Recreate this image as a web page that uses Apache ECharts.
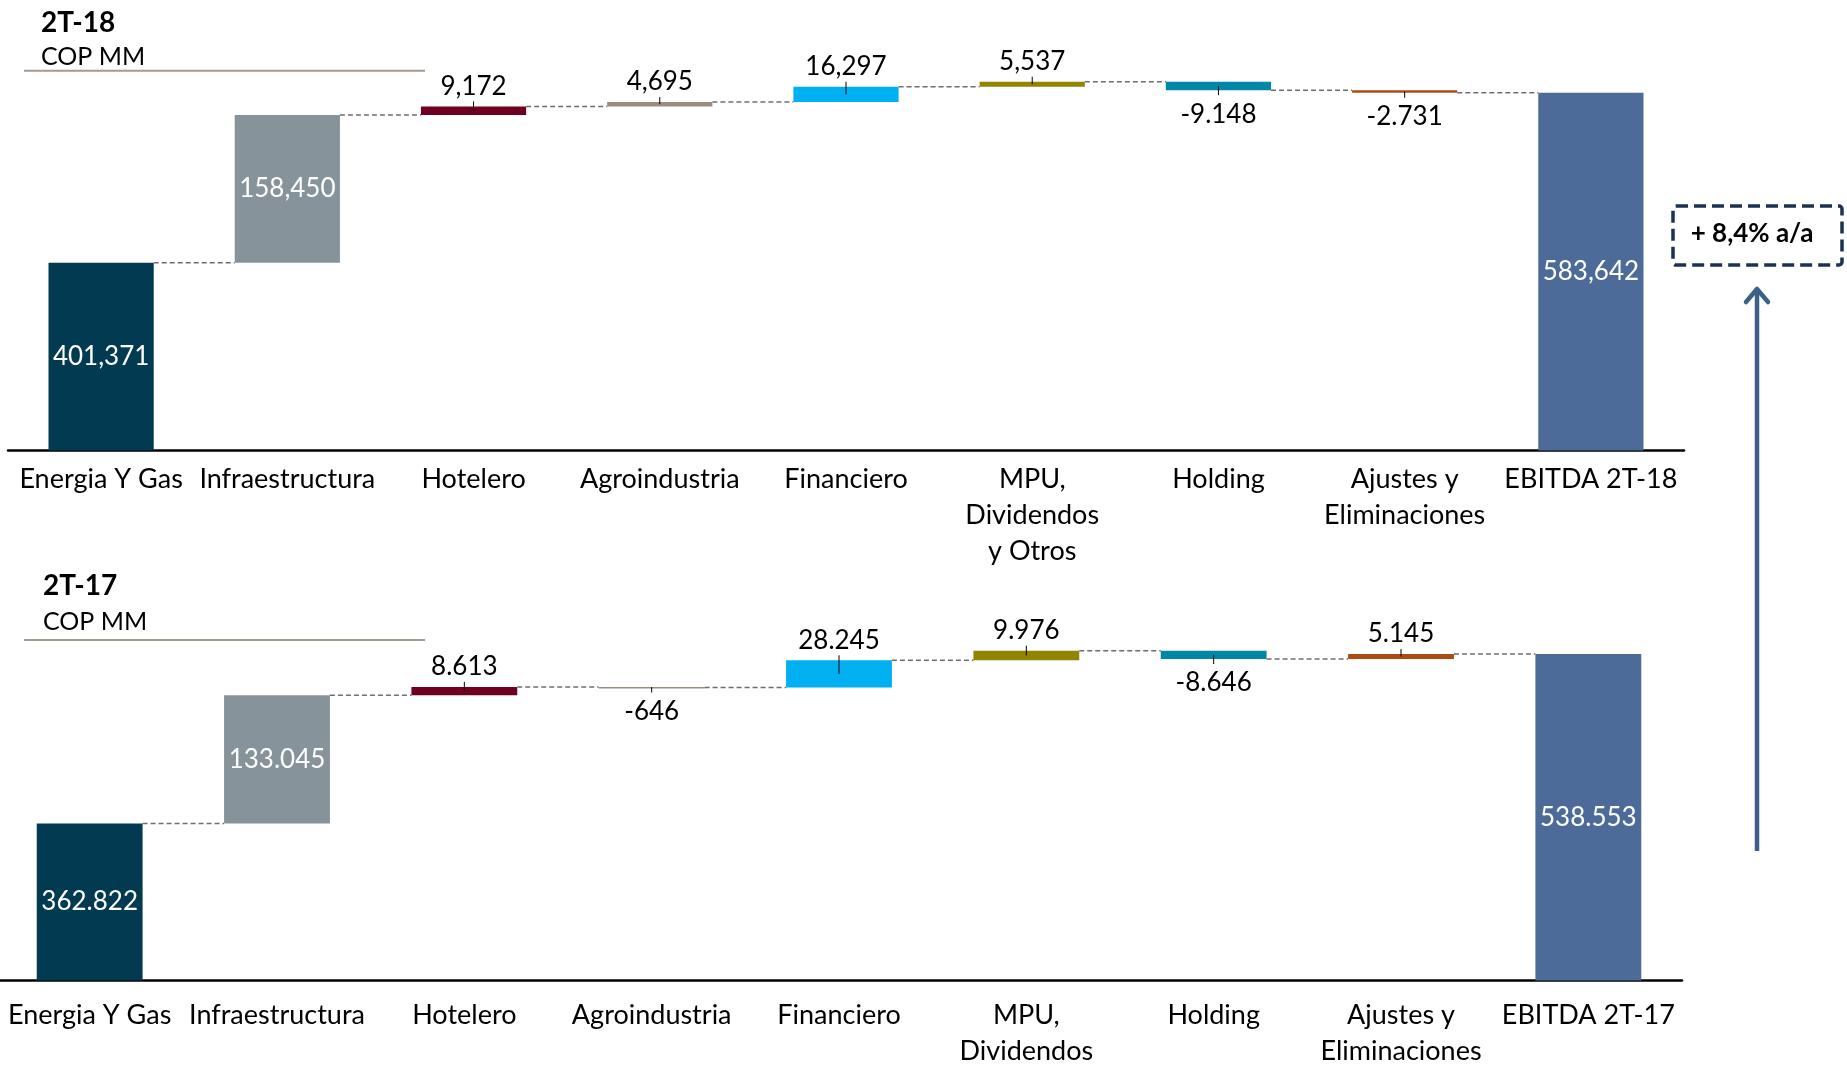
<!DOCTYPE html>
<html>
	<head>
		<meta charset="UTF-8">
		<title>EBITDA 2T-18 / 2T-17</title>
		<style>
			html, body {margin: 0; padding: 0; background: #fff;}
			#chart {width: 1847px; height: 1065px;}
		</style>
	</head>
	<body>
		<div id="chart"></div>

		<script type="text/javascript" src="https://cdn.jsdelivr.net/npm/echarts@6/dist/echarts.min.js"></script>
		<script type="text/javascript">
			var cats18 = ['Energia Y Gas', 'Infraestructura', 'Hotelero', 'Agroindustria', 'Financiero', 'MPU,\nDividendos\ny Otros', 'Holding', 'Ajustes y\nEliminaciones', 'EBITDA 2T-18'];
			var cats17 = ['Energia Y Gas', 'Infraestructura', 'Hotelero', 'Agroindustria', 'Financiero', 'MPU,\nDividendos\ny Otros', 'Holding', 'Ajustes y\nEliminaciones', 'EBITDA 2T-17'];

			var vals18 = [401371, 158450, 9172, 4695, 16297, 5537, -9148, -2731, 583642];
			var text18 = ['401,371', '158,450', '9,172', '4,695', '16,297', '5,537', '-9.148', '-2.731', '583,642'];

			var vals17 = [362822, 133045, 8613, -646, 28245, 9976, -8646, 5145, 538553];
			var text17 = ['362.822', '133.045', '8.613', '-646', '28.245', '9.976', '-8.646', '5.145', '538.553'];

			// which bars carry their value inside (white)
			var inside = [true, true, false, false, false, false, false, false, true];

			var barColors = ['#023a51', '#87939b', '#6f0020', '#9a8d7d', '#00b0f0', '#938400', '#0086a6', '#ae4a12', '#4c6b99'];

			var yMin = 200000, yMax = 600000;
			var FONT = 'Lato, "Open Sans", sans-serif';

			// first and last bars are totals, the rest float on the running sum
			function buildSteps(vals) {
				var out = [], run = 0, last = vals.length - 1;
				vals.forEach(function(v, i) {
					if (i === 0 || i === last) {
						out.push([i, yMin, v]);
						run = v;
					} else {
						out.push([i, run, run + v]);
						run += v;
					}
				});
				return out;
			}

			function waterfall(texts) {
				var n = texts.length;
				return function(params, api) {
					var i = api.value(0), s = api.value(1), e = api.value(2);
					var band = api.size([1, 0])[0], w = band * 0.565;
					var ps = api.coord([i, s]), pe = api.coord([i, e]);
					var cx = ps[0];
					var top = Math.min(ps[1], pe[1]), bot = Math.max(ps[1], pe[1]), mid = (top + bot) / 2;
					var kids = [{
						type: 'rect',
						shape: {x: cx - w / 2, y: top, width: w, height: Math.max(bot - top, 1.5)},
						style: {fill: barColors[i]}
					}];
					if (i < n - 1) {
						kids.push({
							type: 'line',
							shape: {x1: cx + w / 2, y1: pe[1], x2: cx + band - w / 2, y2: pe[1]},
							style: {stroke: '#6e6e6e', lineWidth: 1.5, lineDash: [5, 3]}
						});
					}
					var lbl = {type: 'text', style: {text: texts[i], x: cx, font: '26px ' + FONT, fill: '#000', align: 'center', verticalAlign: 'middle'}};
					if (inside[i]) {
						lbl.style.y = mid;
						lbl.style.fill = '#fff';
					} else if (e >= s) {
						kids.push({type: 'line', shape: {x1: cx, y1: top - 5, x2: cx, y2: mid}, style: {stroke: '#000', lineWidth: 1}});
						lbl.style.y = top - 20;
					} else {
						kids.push({type: 'line', shape: {x1: cx, y1: mid, x2: cx, y2: bot + 5}, style: {stroke: '#000', lineWidth: 1}});
						lbl.style.y = bot + 24;
					}
					kids.push(lbl);
					return {type: 'group', children: kids};
				};
			}

			function xAxisFor(cats, idx, margin) {
				return {
					type: 'category',
					gridIndex: idx,
					data: cats,
					axisTick: {show: false},
					axisLine: {lineStyle: {color: '#000', width: 2.5}},
					axisLabel: {interval: 0, margin: margin, color: '#000', fontFamily: FONT, fontSize: 27, lineHeight: 36}
				};
			}

			function yAxisFor(idx) {
				return {type: 'value', gridIndex: idx, min: yMin, max: yMax, show: false, splitLine: {show: false}};
			}

			var myChart = echarts.init(document.getElementById('chart'));

			var option = {
				backgroundColor: '#fff',
				animation: false,
				grid: [
					{left: 8, width: 1676, top: 77.5, height: 373, outerBoundsMode: 'none', containLabel: false},
					{left: -4, width: 1686, top: 594.8, height: 385.7, outerBoundsMode: 'none', containLabel: false}
				],
				xAxis: [xAxisFor(cats18, 0, 11), xAxisFor(cats17, 1, 17)],
				yAxis: [yAxisFor(0), yAxisFor(1)],
				series: [
					{
						name: '2T-18',
						type: 'custom',
						xAxisIndex: 0,
						yAxisIndex: 0,
						renderItem: waterfall(text18),
						encode: {x: 0, y: [1, 2]},
						data: buildSteps(vals18)
					},
					{
						name: '2T-17',
						type: 'custom',
						xAxisIndex: 1,
						yAxisIndex: 1,
						renderItem: waterfall(text17),
						encode: {x: 0, y: [1, 2]},
						data: buildSteps(vals17)
					}
				],
				graphic: [
					{type: 'text', x: 41, y: 23, style: {text: '2T-18', font: 'bold 28px ' + FONT, fill: '#000', verticalAlign: 'middle'}},
					{type: 'text', x: 41, y: 57, style: {text: 'COP MM', font: '25px ' + FONT, fill: '#000', verticalAlign: 'middle'}},
					{type: 'line', shape: {x1: 24, y1: 70.7, x2: 425, y2: 70.7}, style: {stroke: '#a39a8c', lineWidth: 2}},
					{type: 'text', x: 43, y: 586, style: {text: '2T-17', font: 'bold 28px ' + FONT, fill: '#000', verticalAlign: 'middle'}},
					{type: 'text', x: 43, y: 622, style: {text: 'COP MM', font: '25px ' + FONT, fill: '#000', verticalAlign: 'middle'}},
					{type: 'line', shape: {x1: 24, y1: 640, x2: 425, y2: 640}, style: {stroke: '#a39a8c', lineWidth: 2}},
					// growth box and arrow
					{type: 'rect', shape: {x: 1673, y: 206, width: 169, height: 59, r: 3}, style: {fill: '#fff', stroke: '#1b3252', lineWidth: 3.5, lineDash: [12, 6]}},
					{type: 'text', x: 1752, y: 234, style: {text: '+ 8,4% a/a', font: 'bold 26px ' + FONT, fill: '#000', align: 'center', verticalAlign: 'middle'}},
					{type: 'line', shape: {x1: 1757, y1: 851, x2: 1757, y2: 290}, style: {stroke: '#3c6087', lineWidth: 4.5}},
					{type: 'polyline', shape: {points: [[1746, 302], [1757, 289], [1768, 302]]}, style: {stroke: '#3c6087', lineWidth: 4.5, lineCap: 'round', lineJoin: 'round', fill: null}}
				]
			};

			myChart.setOption(option);
		</script>
	</body>
</html>
